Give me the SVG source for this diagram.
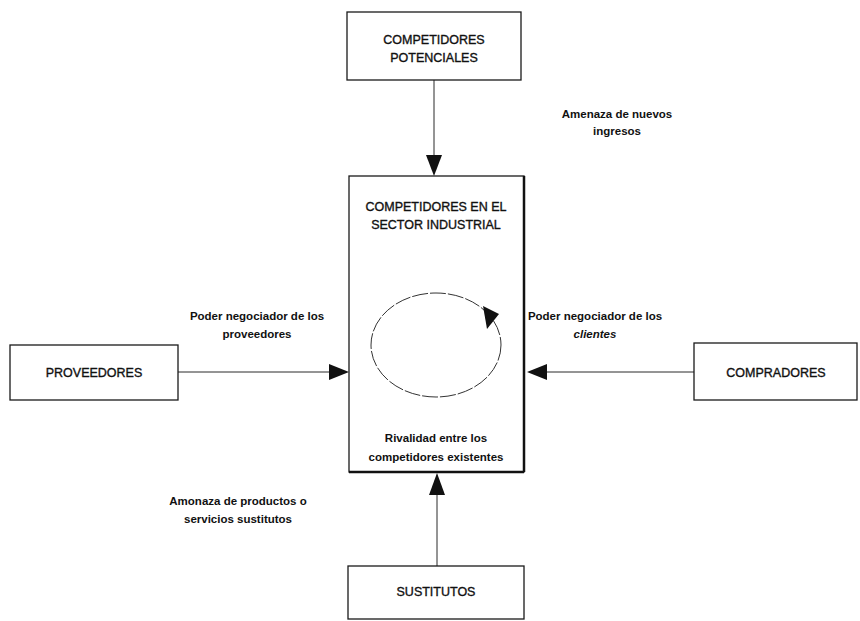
<svg xmlns="http://www.w3.org/2000/svg" width="860" height="621" viewBox="0 0 860 621">
  <style>
    .box { fill: #ffffff; stroke: #1a1a1a; stroke-width: 1.3; }
    .main { fill: #ffffff; stroke: #1a1a1a; stroke-width: 1.3; }
    .edge { fill: none; stroke: #2a2a2a; stroke-width: 1; }
    .head { fill: #111111; }
    text { font-family: "Liberation Sans", Arial, sans-serif; fill: #111111; text-anchor: middle; }
    .t { font-size: 12.5px; stroke: #111111; stroke-width: 0.35; }
    .lbl { font-size: 11.5px; font-weight: bold; }
  </style>

  <rect width="860" height="621" fill="#ffffff"/>

  <!-- connectors -->
  <g id="connectors">
    <line class="edge" x1="434" y1="80" x2="434" y2="156"/>
    <polygon class="head" points="426,155 442,155 434,176"/>
    <line class="edge" x1="178" y1="372" x2="330" y2="372"/>
    <polygon class="head" points="329,364 329,380 349,372"/>
    <line class="edge" x1="694" y1="372" x2="546" y2="372"/>
    <polygon class="head" points="547,364 547,380 527,372"/>
    <line class="edge" x1="437" y1="566" x2="437" y2="494"/>
    <polygon class="head" points="429,495 445,495 437,473"/>
    <text class="lbl" x="617" y="118">Amenaza de nuevos</text>
    <text class="lbl" x="617" y="135">ingresos</text>
    <text class="lbl" x="257" y="320">Poder negociador de los</text>
    <text class="lbl" x="257" y="338">proveedores</text>
    <text class="lbl" x="595" y="320">Poder negociador de los</text>
    <text class="lbl" x="595" y="338" font-style="italic">clientes</text>
    <text class="lbl" x="238" y="505">Amonaza de productos o</text>
    <text class="lbl" x="238" y="523">servicios sustitutos</text>
  </g>

  <g id="competidores-potenciales">
    <rect class="box" x="347" y="12" width="174" height="68"/>
    <text class="t" x="434" y="44">COMPETIDORES</text>
    <text class="t" x="434" y="62">POTENCIALES</text>
  </g>

  <g id="sector-industrial">
    <rect class="main" x="349" y="176" width="175" height="296"/>
    <line x1="524" y1="176" x2="524" y2="472" stroke="#111" stroke-width="2.5"/>
    <line x1="349" y1="472" x2="524" y2="472" stroke="#111" stroke-width="2.5"/>
    <text class="t" x="436" y="211">COMPETIDORES EN EL</text>
    <text class="t" x="436" y="229">SECTOR INDUSTRIAL</text>
    <!-- rivalry cycle -->
    <ellipse cx="436" cy="345" rx="65" ry="52" fill="none" stroke="#333" stroke-width="1" stroke-dasharray="16 2"/>
    <polygon class="head" points="483,306 499,314 487,329"/>
    <text class="lbl" x="436" y="442">Rivalidad entre los</text>
    <text class="lbl" x="436" y="461">competidores existentes</text>
  </g>

  <g id="proveedores">
    <rect class="box" x="10" y="345" width="168" height="55"/>
    <text class="t" x="94" y="377">PROVEEDORES</text>
  </g>

  <g id="compradores">
    <rect class="box" x="694" y="343" width="163" height="57"/>
    <text class="t" x="776" y="377">COMPRADORES</text>
  </g>

  <g id="sustitutos">
    <rect class="box" x="348" y="566" width="176" height="53"/>
    <text class="t" x="436" y="596">SUSTITUTOS</text>
  </g>
</svg>
